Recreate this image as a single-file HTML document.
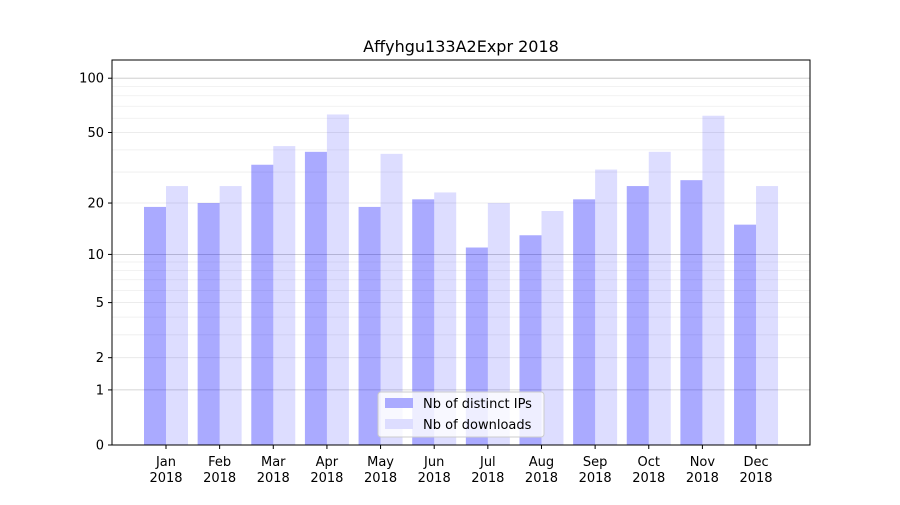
<!DOCTYPE html>
<html><head><meta charset="utf-8"><style>
body{margin:0;background:#fff;font-family:"Liberation Sans","DejaVu Sans",sans-serif;}
svg text{font-family:"DejaVu Sans","Liberation Sans",sans-serif;}
</style></head><body>
<svg id="c" width="900" height="500" xmlns="http://www.w3.org/2000/svg"></svg>
<script>
const categories=["Jan","Feb","Mar","Apr","May","Jun","Jul","Aug","Sep","Oct","Nov","Dec"];
const distinctIPs=[19,20,33,39,19,21,11,13,21,25,27,15];
const downloads=[25,25,42,63,38,23,20,18,31,39,62,25];
const yTicks=[0,1,2,5,10,20,50,100];
const minorTicks=[3,4,6,7,8,9,30,40,60,70,80,90];
const NS="http://www.w3.org/2000/svg";
const svg=document.getElementById('c');
const L=112,R=810,T=60,B=445,K=183;
function y(v){return B-K*Math.log10(1+v);}
function x(i){return 166+i*53.64;}
function el(t,a,p){const e=document.createElementNS(NS,t);for(const k in a)e.setAttribute(k,a[k]);(p||svg).appendChild(e);return e;}
minorTicks.forEach(v=>{const g=el('line',{x1:L,x2:R,y1:y(v),y2:y(v),stroke:'#eee','stroke-width':0.8});

});
yTicks.forEach(v=>{const major=(v===1||v===10||v===100);
const g=el('line',{x1:L,x2:R,y1:y(v),y2:y(v),stroke:major?'#c8c8c8':'#e6e6e6','stroke-width':0.8});


const tk=el('line',{x1:L-4,x2:L,y1:y(v),y2:y(v),stroke:'#000'});


const t=el('text',{x:L-8,y:y(v)+4.5,'text-anchor':'end','font-size':13});t.textContent=v;

});
categories.forEach((c,i)=>{
const b1=el('rect',{x:x(i)-22,y:y(distinctIPs[i]),width:22,height:B-y(distinctIPs[i]),fill:'#0000ff','fill-opacity':0.333});


const b2=el('rect',{x:x(i),y:y(downloads[i]),width:22,height:B-y(downloads[i]),fill:'#0000ff','fill-opacity':0.133});


const tk=el('line',{x1:x(i),x2:x(i),y1:B,y2:B+4,stroke:'#000'});


const t=el('text',{x:x(i),y:B+21,'text-anchor':'middle','font-size':13});t.textContent=c;


const t2=el('text',{x:x(i),y:B+37,'text-anchor':'middle','font-size':13});t2.textContent='2018';

});
const fr=el('rect',{x:L,y:T,width:R-L,height:B-T,fill:'none',stroke:'#000','stroke-width':1});


const ti=el('text',{x:461,y:52,'text-anchor':'middle','font-size':16});ti.textContent='Affyhgu133A2Expr 2018';


const lg=el('g',{});


el('rect',{x:378,y:392,width:166,height:45,rx:3,fill:'#fff','fill-opacity':0.8,stroke:'#ccc'},lg);
const e1=el('rect',{x:385,y:398,width:28,height:10,fill:'#aaaaff'},lg);


const l1=el('text',{x:423,y:408,'font-size':13},lg);l1.textContent='Nb of distinct IPs';


const e2=el('rect',{x:385,y:419,width:28,height:10,fill:'#ddddff'},lg);


const l2=el('text',{x:423,y:429,'font-size':13},lg);l2.textContent='Nb of downloads';


</script>
</body></html>
